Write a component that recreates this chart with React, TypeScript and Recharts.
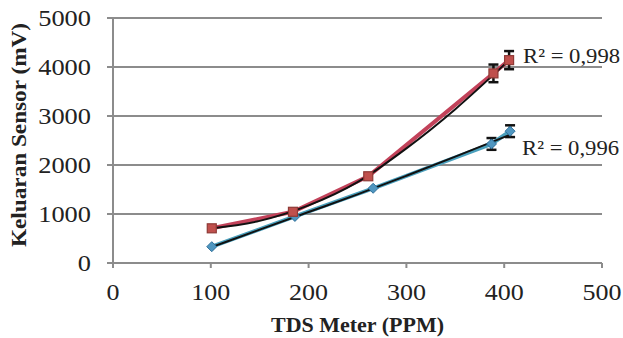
import React from 'react';
import { LineChart, Line, XAxis, YAxis, CartesianGrid, ErrorBar, LabelList } from 'recharts';

// Red series (squares)
const redX = [101, 184, 261, 389, 405];
const redY = [708, 1045, 1770, 3870, 4140];
const redErr = [0, 0, 0, 180, 185];
// Blue series (diamonds)
const blueX = [101, 186, 266, 387, 406];
const blueY = [333, 950, 1525, 2430, 2690];
const blueErr = [0, 0, 0, 120, 120];
// Trend lines (black)
const trendX = [100, 150, 200, 250, 300, 350, 405];
const redTrendY = [705, 860, 1175, 1650, 2340, 3140, 4140];
const blueTrendY = [320, 680, 1040, 1400, 1780, 2170, 2610];
const redR2 = 'R² = 0,998';
const blueR2 = 'R² = 0,996';

const xTicks = [0, 100, 200, 300, 400, 500];
const yTicks = [0, 1000, 2000, 3000, 4000, 5000];

const redData = redX.map((x, i) => ({ x, y: redY[i], err: redErr[i] }));
const blueData = blueX.map((x, i) => ({ x, y: blueY[i], err: blueErr[i] }));
const redTrend = trendX.map((x, i) => ({ x, y: redTrendY[i] }));
const blueTrend = trendX.map((x, i) => ({ x, y: blueTrendY[i] }));

const FONT = '"Liberation Serif", "DejaVu Serif", serif';
const RED = '#c2425a';
const BLUE = '#4aa0bd';
const GRID = '#8c8c8c';

const YTick = (props: any) => {
  const { x, y, payload } = props;
  const s = String(payload.value);
  const L = 13.2 * s.length;
  return (
    <text x={x - L} y={y + 8} fontFamily={FONT} fontSize={23} fill="#222" textLength={L} lengthAdjust="spacingAndGlyphs">
      {s}
    </text>
  );
};

const XTick = (props: any) => {
  const { x, y, payload } = props;
  const s = String(payload.value);
  const L = 13 * s.length;
  return (
    <text x={x - L / 2} y={y + 22} fontFamily={FONT} fontSize={23} fill="#222" textLength={L} lengthAdjust="spacingAndGlyphs">
      {s}
    </text>
  );
};

const RedSquare = (props: any) => {
  const { cx, cy } = props;
  if (cx == null || cy == null) return null;
  return <rect x={cx - 4.5} y={cy - 4.5} width={9} height={9} fill="#c0504d" stroke="#8e3a36" strokeWidth={1.2} />;
};

const BlueDiamond = (props: any) => {
  const { cx, cy } = props;
  if (cx == null || cy == null) return null;
  return (
    <path d={`M${cx},${cy - 5} L${cx + 5},${cy} L${cx},${cy + 5} L${cx - 5},${cy} Z`} fill="#4f96c0" stroke="#2f709a" strokeWidth={1} />
  );
};

const makeR2Label = (text: string, dx: number, dy: number, last: number) => (props: any) => {
  const { x, y, index } = props;
  if (index !== last) return null;
  return (
    <text x={x + dx} y={y + dy} fontFamily={FONT} fontSize={22} fill="#222" textLength={97} lengthAdjust="spacingAndGlyphs">
      {text}
    </text>
  );
};

export default function App() {
  return (
    <div style={{ position: 'absolute', left: 0, top: 0, width: 623, height: 338, background: '#fff' }}>
      <LineChart width={623} height={338} margin={{ top: 18, right: 21, left: 0, bottom: 0 }}>
        <CartesianGrid vertical={false} stroke={GRID} strokeWidth={2} />
        <XAxis
          type="number"
          dataKey="x"
          domain={[0, 500]}
          ticks={xTicks}
          height={75}
          stroke={GRID}
          strokeWidth={2}
          tickSize={5}
          tickMargin={10}
          tick={<XTick />}
          allowDataOverflow
          label={{
            content: () => (
              <text x={357.5 - 86.5} y={332} fontFamily={FONT} fontSize={21} fontWeight="bold" fill="#222" textLength={173} lengthAdjust="spacingAndGlyphs">
                TDS Meter (PPM)
              </text>
            ),
          }}
        />
        <YAxis
          type="number"
          domain={[0, 5000]}
          ticks={yTicks}
          width={113}
          stroke={GRID}
          strokeWidth={2}
          tickSize={6}
          tickMargin={16}
          tick={<YTick />}
          allowDataOverflow
          label={{
            content: () => (
              <text x={-112} y={0} transform="translate(26,135) rotate(-90)" fontFamily={FONT} fontSize={22} fontWeight="bold" fill="#222" textLength={224} lengthAdjust="spacingAndGlyphs">
                Keluaran Sensor (mV)
              </text>
            ),
          }}
        />
        <Line data={blueData} dataKey="y" type="linear" stroke={BLUE} strokeWidth={4} dot={<BlueDiamond />} activeDot={false} isAnimationActive={false}>
          <ErrorBar dataKey="err" direction="y" width={5} stroke="#111" strokeWidth={2.5} />
        </Line>
        <Line data={redData} dataKey="y" type="linear" stroke={RED} strokeWidth={4} dot={<RedSquare />} activeDot={false} isAnimationActive={false}>
          <ErrorBar dataKey="err" direction="y" width={5} stroke="#111" strokeWidth={2.5} />
        </Line>
        <Line data={blueTrend} dataKey="y" type="monotone" stroke="#111" strokeWidth={2} dot={false} activeDot={false} isAnimationActive={false}>
          <LabelList dataKey="y" content={makeR2Label(blueR2, 13, 20, blueTrendY.length - 1)} />
        </Line>
        <Line data={redTrend} dataKey="y" type="monotone" stroke="#111" strokeWidth={2} dot={false} activeDot={false} isAnimationActive={false}>
          <LabelList dataKey="y" content={makeR2Label(redR2, 14, 3, redTrendY.length - 1)} />
        </Line>
      </LineChart>
    </div>
  );
}
